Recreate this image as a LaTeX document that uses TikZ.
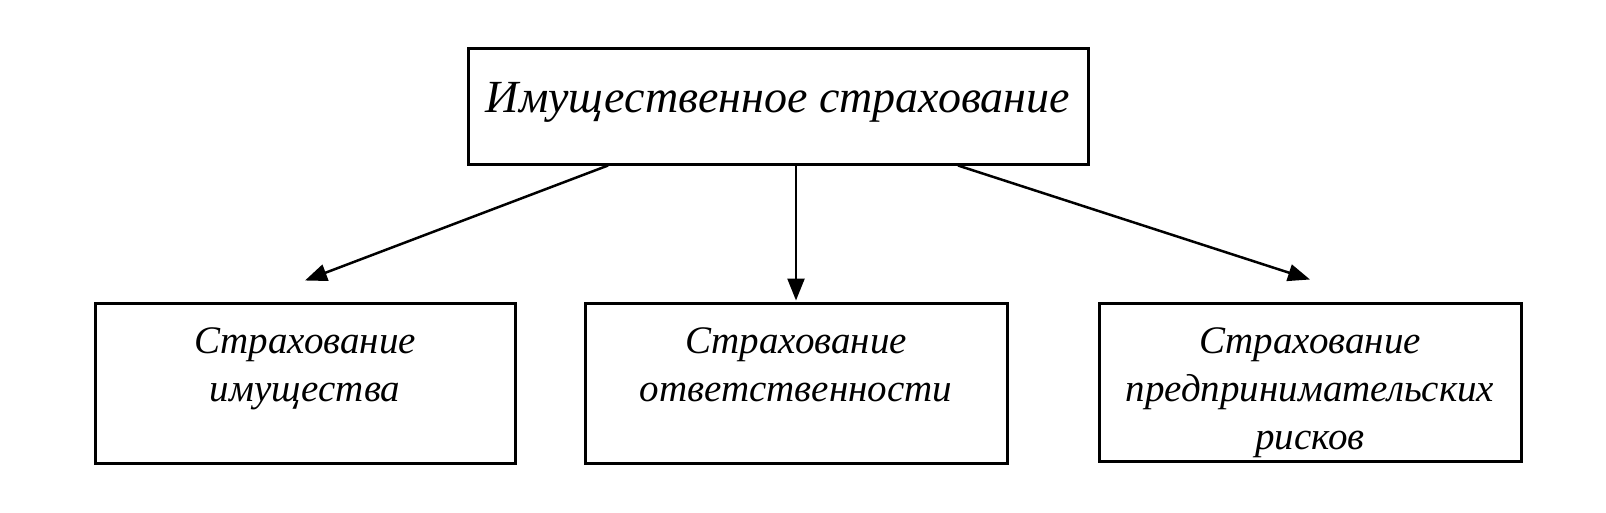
\documentclass[tikz,border=0pt]{standalone}
\usepackage{fontspec}
\setmainfont{Liberation Serif}
\usetikzlibrary{arrows.meta}

\tikzset{
  box/.style={draw, line width=3pt, inner sep=0pt, align=center,
    font=\itshape\fontsize{39}{48}\selectfont},
  link/.style={line width=2.5pt, -{Triangle[length=22pt,width=17pt]}},
}

% текст сверху блока
\newcommand{\boxtext}[4]{\parbox[c][#2][t]{#1}{\centering\vspace*{#3}#4}}

\begin{document}
\begin{tikzpicture}[x=1pt,y=-1pt]
\useasboundingbox (0,0) rectangle (1606,512);

% Верхний блок
\node[box, font=\itshape\fontsize{46}{56}\selectfont] (main) at (778,106)
  {\boxtext{620pt}{116pt}{34pt}{Имущественное страхование}};

% Нижние блоки
\node[box] (prop) at (305,383)
  {\boxtext{420pt}{160pt}{25pt}{Страхование\\имущества}};
\node[box] (resp) at (796,383)
  {\boxtext{422pt}{160pt}{25pt}{Страхование\\ответственности}};
\node[box] (risk) at (1310,382)
  {\boxtext{422pt}{158pt}{25pt}{Страхование\\предпринимательских\\рисков}};

% Стрелки
\draw[link] ([xshift=-170pt]main.south) -- ([yshift=21pt]prop.north);
\draw[link] (main.south -| resp.north) -- ([yshift=1pt]resp.north);
\draw[link] ([xshift=180pt]main.south) -- ([yshift=22pt]risk.north);

\end{tikzpicture}
\end{document}
